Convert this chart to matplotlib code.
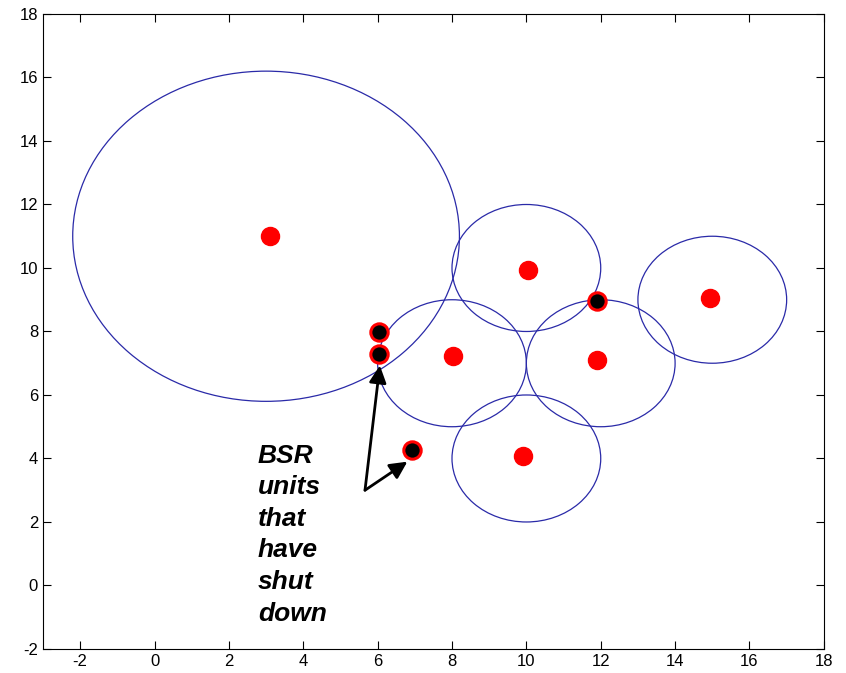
import matplotlib.pyplot as plt
from matplotlib.patches import Circle

plt.rcParams['font.family'] = ['Liberation Sans', 'DejaVu Sans']
plt.rcParams['axes.unicode_minus'] = False

# coverage circles
cx = [3, 10, 15, 8, 12, 10]
cy = [11, 10, 9, 7, 7, 4]
cr = [5.2, 2, 2, 2, 2, 2]

# active BSR units (red)
on_x = [3.1, 10.05, 14.95, 8.02, 11.9, 9.92]
on_y = [11.02, 9.95, 9.05, 7.23, 7.1, 4.07]

# units that shut down (black with red rim)
off_x = [6.05, 6.05, 11.9, 6.93]
off_y = [7.98, 7.29, 8.96, 4.27]

fig = plt.figure(figsize=(8.46, 6.73), dpi=100)
ax = fig.add_axes([0.0508, 0.0357, 0.923, 0.9435])

for x, y, r in zip(cx, cy, cr):
    ax.add_patch(Circle((x, y), r, fill=False, ec='#2a2aa8', lw=0.9))

ax.plot(on_x, on_y, 'o', color='#ff0000', ms=13, mec='#ff0000', ls='none')
ax.plot(off_x, off_y, 'o', color='black', ms=12.5, mec='#ff0000', mew=2.2, ls='none')

# annotation
ax.text(2.78, 4.47, "BSR\nunits\nthat\nhave\nshut\ndown", fontsize=19,
        fontweight='bold', fontstyle='italic', va='top', ha='left', linespacing=1.4)
arr = dict(arrowstyle='-|>', color='black', lw=2, mutation_scale=26, shrinkA=0, shrinkB=0)
ax.annotate("", xy=(6.06, 6.93), xytext=(5.66, 3.0), arrowprops=arr)
ax.annotate("", xy=(6.8, 3.9), xytext=(5.66, 3.0), arrowprops=arr)

ax.set_xlim(-3, 18)
ax.set_ylim(-2, 18)
ax.set_xticks(range(-2, 19, 2))
ax.set_yticks(range(-2, 19, 2))
ax.tick_params(direction='in', top=True, right=True, labelsize=12, length=6, width=0.8)
for s in ax.spines.values():
    s.set_linewidth(0.8)

plt.savefig("out.png", dpi=100)
